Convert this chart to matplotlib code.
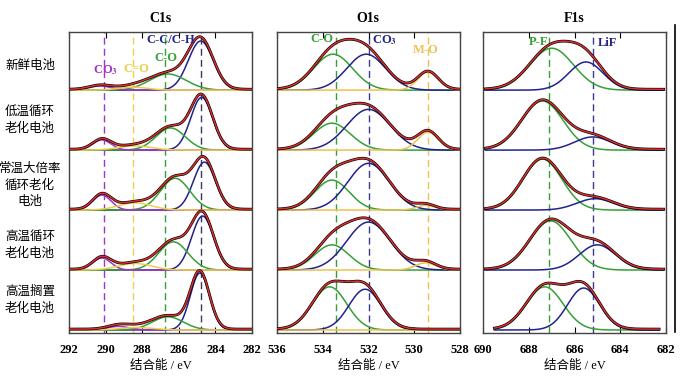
import matplotlib.pyplot as plt
from matplotlib.lines import Line2D
import numpy as np

plt.rcParams['font.family'] = ['Liberation Serif', 'Noto Sans CJK SC']
plt.rcParams['mathtext.fontset'] = 'stix'
plt.rcParams['axes.unicode_minus'] = False

# 样品名称（自上而下）
samples = ['新鲜电池', '低温循环\n老化电池', '常温大倍率\n循环老化\n电池', '高温循环\n老化电池', '高温搁置\n老化电池']
sample_y = [65, 120, 185, 245, 300]   # 像素位置

# 各峰拟合参数: (高度, 中心 eV, 宽度 sigma)，每行一个样品
c1s_co3 = [(0.07, 290.3, 0.6), (0.17, 290.2, 0.5), (0.25, 290.2, 0.5), (0.20, 290.2, 0.5), (0.06, 289.3, 0.6)]
c1s_c_o2 = [(0.05, 288.5, 0.8), (0.07, 288.4, 0.9), (0.12, 288.4, 0.9), (0.11, 288.4, 0.9), (0.04, 288.3, 0.9)]
c1s_co = [(0.27, 286.6, 1.0), (0.37, 286.45, 0.8), (0.53, 286.2, 0.8), (0.47, 286.3, 0.8), (0.22, 286.6, 0.85)]
c1s_cc = [(0.82, 284.8, 0.68), (0.88, 284.75, 0.6), (0.80, 284.6, 0.6), (0.90, 284.7, 0.6), (0.95, 284.85, 0.52)]

o1s_co = [(0.60, 533.55, 0.85), (0.45, 533.6, 0.8), (0.50, 533.6, 0.75), (0.42, 533.6, 0.75), (0.72, 533.7, 0.75)]
o1s_co3 = [(0.60, 532.1, 0.85), (0.68, 532.0, 0.95), (0.78, 532.0, 0.9), (0.80, 532.0, 0.95), (0.68, 532.15, 0.7)]
o1s_mo = [(0.30, 529.4, 0.45), (0.30, 529.4, 0.45), (0.08, 529.5, 0.4), (0.12, 529.5, 0.45), (0.0, 529.5, 0.45)]

f1s_pf = [(0.70, 687.0, 0.95), (0.82, 687.4, 0.9), (0.85, 687.4, 0.85), (0.82, 687.05, 0.9), (0.72, 687.3, 0.8)]
f1s_lif = [(0.47, 685.5, 0.75), (0.22, 685.2, 0.8), (0.19, 685.1, 0.8), (0.42, 685.0, 0.8), (0.70, 685.6, 0.7)]

PURPLE = '#a035c4'
YELLOW = '#ecd04a'
GREEN = '#35a035'
NAVY = '#22228e'
GOLD = '#f0c050'

panels = [
    dict(title='C1s', xlim=(292, 282), ticks=[292, 290, 288, 286, 284, 282],
         comps=[(c1s_cc, NAVY), (c1s_co, GREEN), (c1s_co3, PURPLE), (c1s_c_o2, YELLOW)],
         vlines=[(290.1, PURPLE), (288.5, YELLOW), (286.75, GREEN), (284.8, '#3a3a60')],
         labels=[(r'CO$_{\mathbf{3}}$', 290.0, 4.34, PURPLE), ('C=O', 288.3, 4.35, YELLOW),
                 ('C-O', 286.7, 4.54, GREEN), ('C-C/C-H', 286.45, 4.83, NAVY)],
         left=69),
    dict(title='O1s', xlim=(536, 528), ticks=[536, 534, 532, 530, 528],
         comps=[(o1s_co, GREEN), (o1s_co3, NAVY), (o1s_mo, GOLD)],
         vlines=[(533.4, GREEN), (532.0, '#3a3a90'), (529.4, GOLD)],
         labels=[('C-O', 534.05, 4.86, GREEN), (r'CO$_{\mathbf{3}}$', 531.3, 4.83, NAVY),
                 ('M-O', 529.5, 4.67, GOLD)],
         left=277),
    dict(title='F1s', xlim=(690, 682), ticks=[690, 688, 686, 684, 682],
         comps=[(f1s_pf, GREEN), (f1s_lif, NAVY)],
         vlines=[(687.1, GREEN), (685.2, '#3a3a90')],
         labels=[('P-F', 687.57, 4.81, GREEN), ('LiF', 684.56, 4.79, NAVY)],
         left=483),
]

W, H = 680, 382
fig = plt.figure(figsize=(6.8, 3.82), dpi=100)

for p in panels:
    ax = fig.add_axes([p['left'] / W, (H - 333) / H, 183 / W, 301 / H])
    lo, hi = p['xlim']
    for row in range(5):
        base = 4 - row
        if p['title'] == 'F1s':
            x0, x1 = (689.5, 682.3) if row == 4 else (689.9, 682.1)
        else:
            x0, x1 = lo, hi
        x = np.linspace(x0, x1, 400)
        total = np.zeros_like(x)
        curves = []
        for comp, col in p['comps']:
            h, c, s = comp[row]
            g = h * np.exp(-(x - c) ** 2 / (2 * s ** 2))
            total += g
            curves.append((g, col))
        bg = 0.015
        for g, col in curves:
            ax.plot(x, base + g, color=col, lw=1.1, zorder=2)
        ax.plot(x, base + total + bg, color='black', lw=2.0, zorder=3)
        ax.plot(x, base + total + bg, color='#d83030', lw=1.1, zorder=4)
    for xv, col in p['vlines']:
        ax.axvline(xv, color=col, lw=1.0, dashes=(5, 3), zorder=1)
    for txt, xv, yv, col in p['labels']:
        ax.text(xv, yv, txt, color=col, fontsize=9, fontweight='bold', ha='center', va='center', zorder=5)
    ax.set_xlim(lo, hi)
    ax.set_ylim(-0.05, 4.97)
    ax.set_yticks([])
    ax.set_xticks(p['ticks'])
    ax.set_xticklabels([str(t) for t in p['ticks']], fontsize=9, fontweight='bold')
    ax.tick_params(axis='x', direction='in', top=True, length=4, pad=8)
    for sp in ax.spines.values():
        sp.set_color('#444444')
        sp.set_linewidth(1.0)
    ax.set_xlabel('结合能 / eV', fontsize=9, labelpad=3)
    fig.text((p['left'] + 91) / W, 1 - 18 / H, p['title'], fontsize=10, fontweight='bold', ha='center', va='center')

for s, py in zip(samples, sample_y):
    fig.text(30 / W, 1 - py / H, s, fontsize=9, ha='center', va='center', linespacing=1.35,
             family=['Noto Sans CJK SC'])

fig.add_artist(Line2D([675 / W, 675 / W], [0.13, 1 - 25 / H], color='black', lw=1.2))

plt.savefig('out.png', dpi=100)
